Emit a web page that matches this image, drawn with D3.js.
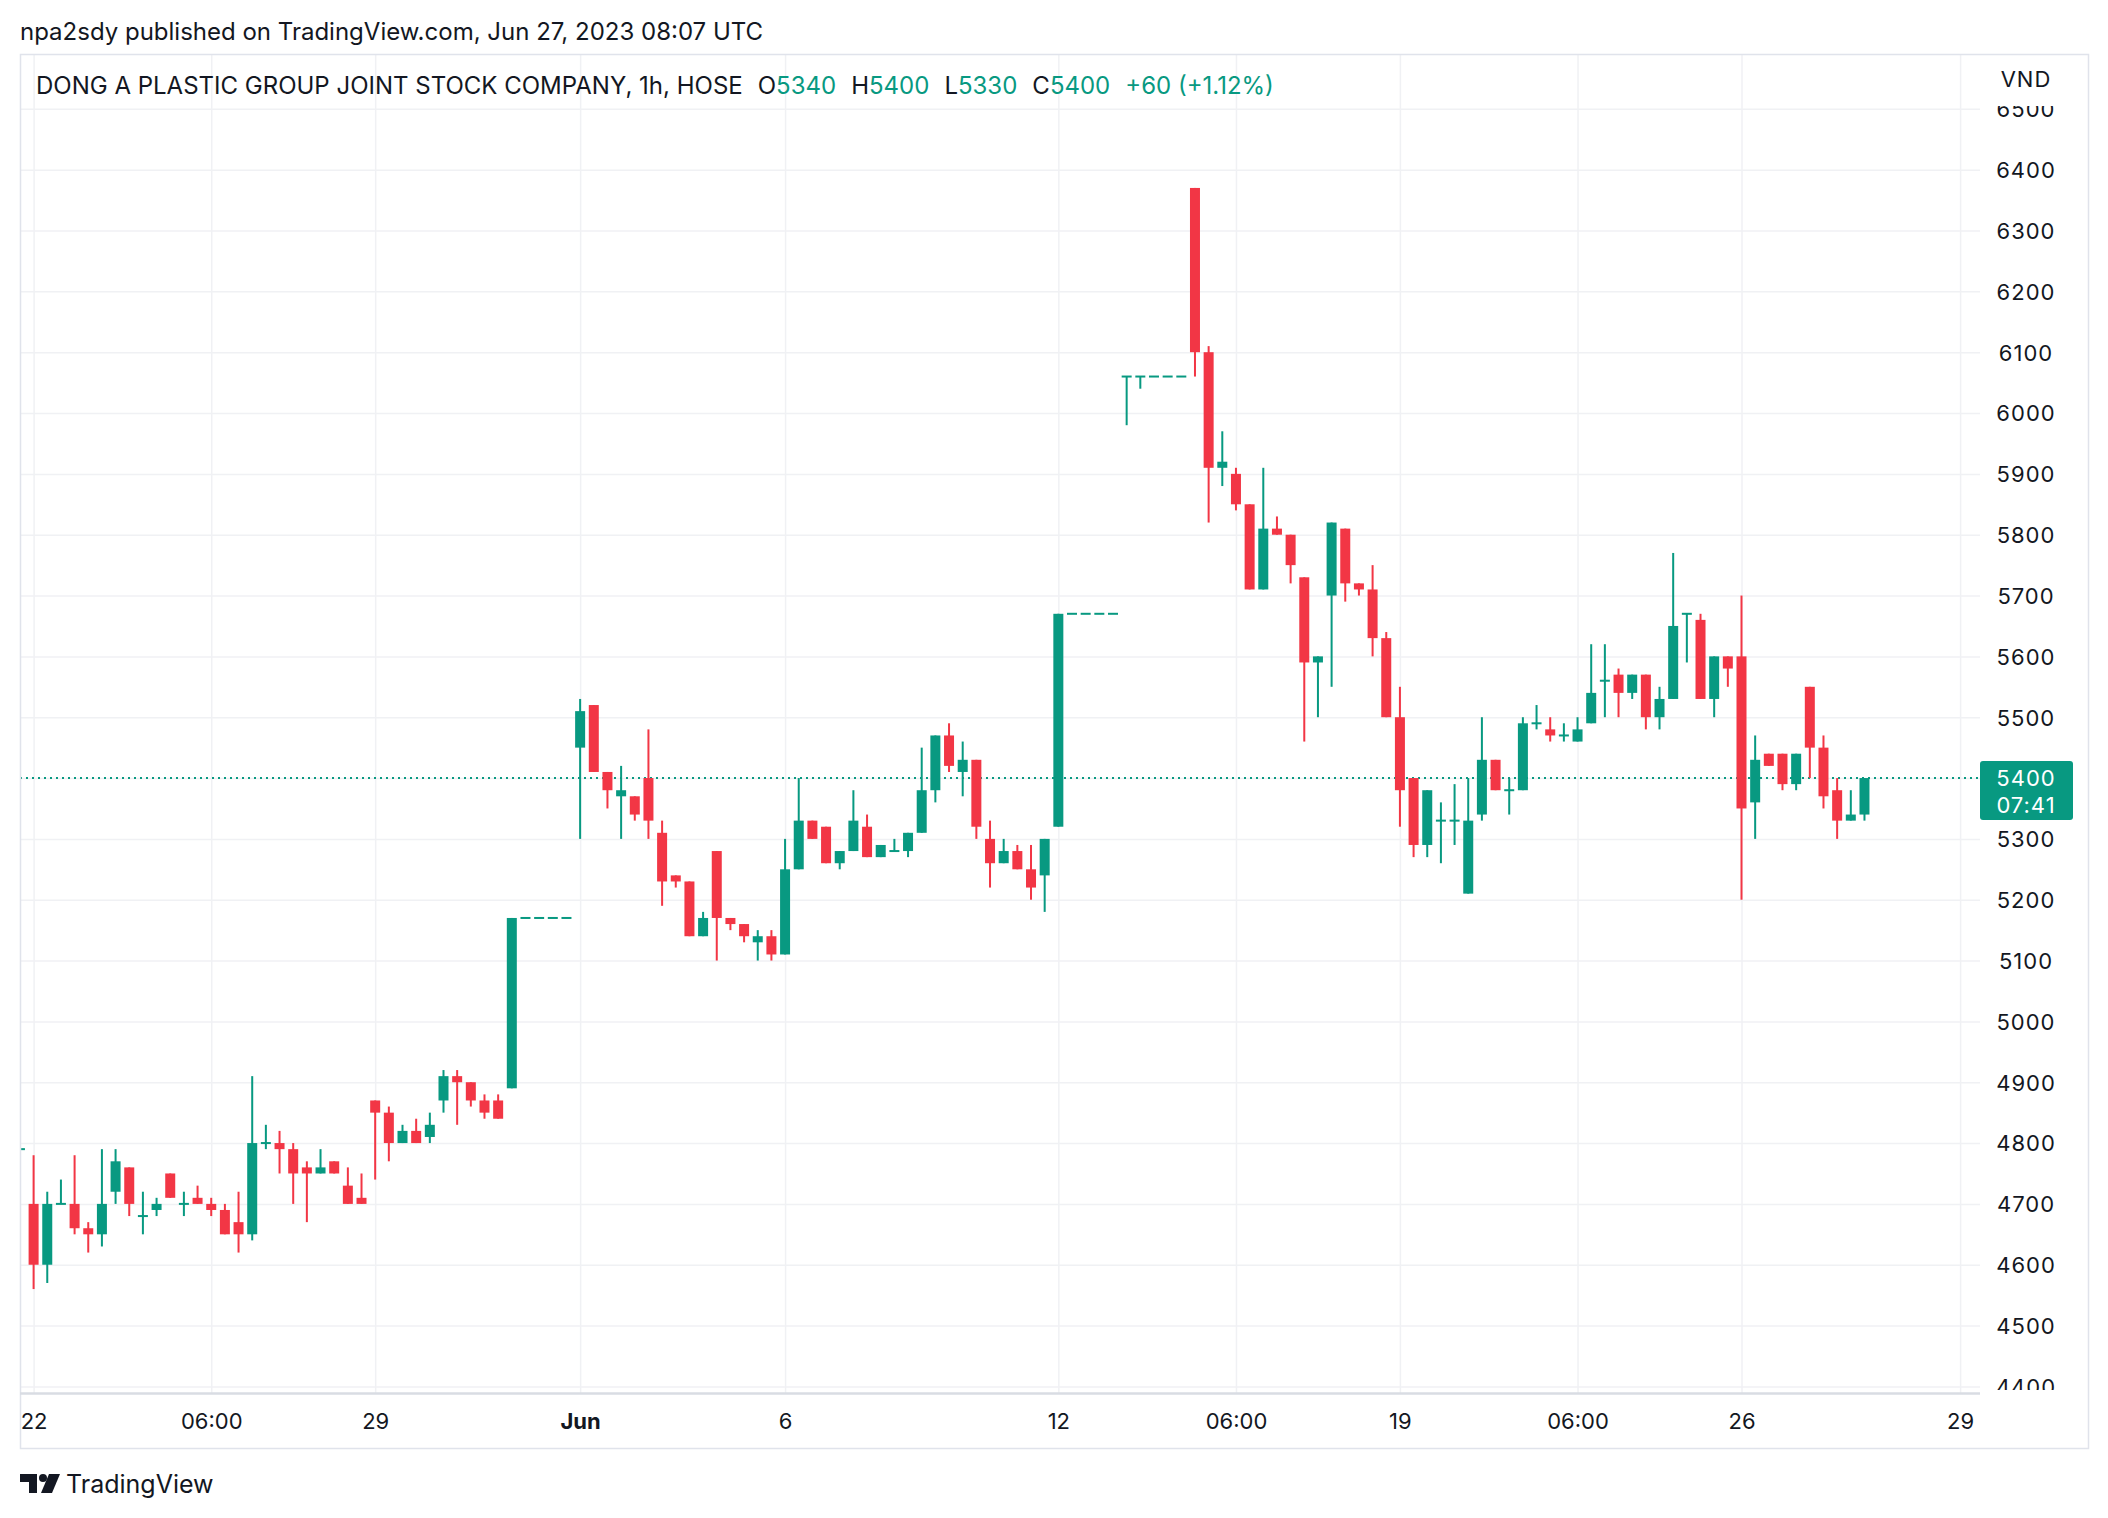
<!DOCTYPE html>
<html>
<head>
<meta charset="utf-8">
<script src="https://cdn.jsdelivr.net/npm/d3@7"></script>
<style>
body { margin: 0; background: #fff; }
svg { font-family: Inter, "Noto Sans", sans-serif; }
.grid line { stroke: #f0f1f4; stroke-width: 1.5; }
.grid path { display: none; }
.axis path, .axis line { display: none; }
.axis text { fill: #131722; font-size: 22px; font-family: Inter, sans-serif; }
</style>
</head>
<body>
<svg width="2108" height="1518"></svg>
<script>
const UP = "#089981"
const DOWN = "#F23645"
const INK = "#131722"

// hourly bars, first one is the last bar of May 19 (cut by the left edge)
var firstBar = -1
var opens = [4790,
	4700,4600,4700,4700,4660, 4650,4720,4760,4680,4690, 4750,4700,4710,4700,4690, 4670,4650,4800,4800,4790,
	4760,4750,4770,4730,4710, 4870,4850,4800,4820,4810, 4870,4910,4900,4870,4870, 4890,5170,5170,5170,5170,
	5450,5520,5410,5370,5370, 5400,5310,5240,5230,5140, 5280,5170,5160,5130,5140,
	5110,5250,5330,5320,5260, 5280,5320,5270,5280,5280, 5310,5380,5470,5410,5430, 5300,5260,5280,5250,5240,
	5320,5670,5670,5670,5670, 6060,6060,6060,6060,6060, 6370,6100,5910,5900,5850,
	5710,5810,5800,5730,5590, 5700,5810,5720,5710,5630,
	5500,5400,5290,5330,5330, 5210,5340,5430,5380,5380, 5490,5480,5470,5460,5490, 5560,5570,5540,5570,5500,
	5530,5670,5660,5530,5600, 5600,5360,5440,5440,5390, 5550,5450,5380,5330,5340]
var highs = [4790,
	4780,4720,4740,4780,4670, 4790,4790,4760,4720,4710, 4750,4720,4730,4710,4700, 4720,4910,4830,4820,4800,
	4770,4790,4770,4760,4750, 4870,4860,4830,4840,4850, 4920,4920,4900,4880,4880, 5170,5170,5170,5170,5170,
	5530,5520,5410,5420,5370, 5480,5330,5240,5230,5180, 5280,5170,5160,5150,5150,
	5300,5400,5330,5320,5280, 5380,5340,5290,5300,5310, 5450,5470,5490,5460,5430, 5330,5300,5290,5290,5300,
	5670,5670,5670,5670,5670, 6060,6060,6060,6060,6060, 6370,6110,5970,5910,5850,
	5910,5830,5800,5730,5600, 5820,5810,5720,5750,5640,
	5550,5400,5380,5360,5390, 5400,5500,5430,5400,5500, 5520,5500,5490,5500,5620, 5620,5580,5570,5570,5550,
	5770,5670,5670,5600,5600, 5700,5470,5440,5440,5440, 5550,5470,5400,5380,5400]
var lows = [4700,
	4560,4570,4700,4650,4620, 4630,4700,4680,4650,4680, 4710,4680,4700,4680,4650, 4620,4640,4790,4750,4700,
	4670,4750,4750,4700,4700, 4740,4770,4800,4800,4800, 4850,4830,4860,4840,4840, 4890,5170,5170,5170,5170,
	5300,5410,5350,5300,5330, 5300,5190,5220,5140,5140, 5100,5150,5130,5100,5100,
	5110,5250,5300,5260,5250, 5280,5270,5270,5280,5270, 5310,5360,5410,5370,5300, 5220,5260,5250,5200,5180,
	5320,5670,5670,5670,5670, 5980,6040,6060,6060,6060, 6060,5820,5880,5840,5710,
	5710,5800,5720,5460,5500, 5550,5690,5700,5600,5500,
	5320,5270,5270,5260,5290, 5210,5330,5380,5340,5380, 5480,5460,5460,5460,5490, 5500,5500,5530,5480,5480,
	5530,5590,5530,5500,5550, 5200,5300,5420,5380,5380, 5400,5350,5300,5330,5330]
var closes = [4790,
	4600,4700,4700,4660,4650, 4700,4770,4700,4680,4700, 4710,4700,4700,4690,4650, 4650,4800,4800,4790,4750,
	4750,4760,4750,4700,4700, 4850,4800,4820,4800,4830, 4910,4900,4870,4850,4840, 5170,5170,5170,5170,5170,
	5510,5410,5380,5380,5340, 5330,5230,5230,5140,5170, 5170,5160,5140,5140,5110,
	5250,5330,5300,5260,5280, 5330,5270,5290,5280,5310, 5380,5470,5420,5430,5320, 5260,5280,5250,5220,5300,
	5670,5670,5670,5670,5670, 6060,6060,6060,6060,6060, 6100,5910,5920,5850,5710,
	5810,5800,5750,5590,5600, 5820,5720,5710,5630,5500,
	5380,5290,5380,5330,5330, 5330,5430,5380,5380,5490, 5490,5470,5470,5480,5540, 5560,5540,5570,5500,5530,
	5650,5670,5530,5600,5580, 5350,5430,5420,5390,5440, 5450,5370,5330,5340,5400]

var priceTicks = d3.range(4400, 6600, 100)
var timeTickBars = [0, 13, 25, 40, 55, 75, 88, 100, 113, 125, 141]
var timeTickLabels = ["22", "06:00", "29", "Jun", "6", "12", "06:00", "19", "06:00", "26", "29"]

var publishedBy = "npa2sdy published on TradingView.com, Jun 27, 2023 08:07 UTC"
var symbolTitle = "DONG A PLASTIC GROUP JOINT STOCK COMPANY, 1h, HOSE"
var currency = "VND"
var countdown = "07:41"

var svg = d3.select("svg"),
	pane = { left: 20, top: 54, right: 1980, bottom: 1393 },
	outer = { right: 2088, bottom: 1448 }

var x = d3.scaleLinear()
	.domain([0, 125])
	.range([33.6, 1741.5])

var y = d3.scaleLinear()
	.domain([4400, 6400])
	.range([1386.4, 169.7])

svg.append("rect").attr("width", 2108).attr("height", 1518).attr("fill", "#fff")

// gridlines
svg.append("g")
	.attr("class", "grid")
	.attr("transform", "translate(0," + pane.bottom + ")")
	.call(d3.axisBottom(x)
		.tickValues(timeTickBars)
		.tickSize(-(pane.bottom - pane.top))
		.tickFormat(""))

svg.append("g")
	.attr("class", "grid")
	.attr("transform", "translate(" + pane.left + ",0)")
	.call(d3.axisLeft(y)
		.tickValues(priceTicks)
		.tickSize(-(pane.right - pane.left))
		.tickFormat(""))

svg.append("clipPath").attr("id", "clip")
	.append("rect")
	.attr("x", pane.left).attr("y", pane.top)
	.attr("width", pane.right - pane.left).attr("height", pane.bottom - pane.top)

var bars = opens.map(function (o, k) {
	return { i: firstBar + k, o: o, h: highs[k], l: lows[k], c: closes[k] }
})
var last = bars[bars.length - 1]
var prevClose = bars[bars.length - 2].c

// last price line
svg.append("line")
	.attr("x1", pane.left).attr("x2", pane.right)
	.attr("y1", y(last.c)).attr("y2", y(last.c))
	.attr("stroke", UP).attr("stroke-width", 2)
	.attr("stroke-dasharray", "2,4")

var plot = svg.append("g").attr("clip-path", "url(#clip)")
var candle = plot.selectAll("g.candle")
	.data(bars)
	.enter()
	.append("g")
	.attr("class", "candle")
	.attr("fill", function (d) { return d.c >= d.o ? UP : DOWN })

candle.append("rect")
	.attr("x", function (d) { return x(d.i) - 1 })
	.attr("width", 2)
	.attr("y", function (d) { return y(d.h) })
	.attr("height", function (d) { return y(d.l) - y(d.h) })

candle.append("rect")
	.attr("x", function (d) { return x(d.i) - 5 })
	.attr("width", 10)
	.attr("y", function (d) {
		var top = y(Math.max(d.o, d.c)), h = y(Math.min(d.o, d.c)) - top
		return h < 2 ? top - 1 : top
	})
	.attr("height", function (d) {
		return Math.max(2, y(Math.min(d.o, d.c)) - y(Math.max(d.o, d.c)))
	})

// price axis
var pAxis = svg.append("g")
	.attr("class", "axis")
	.attr("transform", "translate(" + pane.right + ",0)")
	.call(d3.axisRight(y).tickValues(priceTicks).tickSize(0).tickFormat(d3.format("d")))
pAxis.selectAll("text")
	.attr("x", 46)
	.attr("text-anchor", "middle")
	.attr("dy", "0.36em")
	.attr("letter-spacing", "1px")
	.attr("fill", function (d) { return d > 6400 ? "#9598a1" : INK })

svg.append("rect")
	.attr("x", pane.right + 2).attr("y", pane.top + 2)
	.attr("width", outer.right - pane.right - 4).attr("height", 50)
	.attr("fill", "#fff")
svg.append("text")
	.attr("x", 2026).attr("y", 79)
	.attr("text-anchor", "middle").attr("dy", "0.36em")
	.attr("font-size", 22).attr("letter-spacing", "1px").attr("fill", INK)
	.text(currency)

// covers the bottom of the lowest label like the time scale does
svg.append("rect")
	.attr("x", pane.right).attr("y", pane.bottom - 3)
	.attr("width", outer.right - pane.right - 1).attr("height", 55)
	.attr("fill", "#fff")

// frame
svg.append("rect")
	.attr("x", pane.left + 0.5).attr("y", pane.top + 0.5)
	.attr("width", outer.right - pane.left).attr("height", outer.bottom - pane.top)
	.attr("fill", "none").attr("stroke", "#e0e3eb").attr("stroke-width", 1.5)
svg.append("line")
	.attr("x1", pane.left).attr("x2", pane.right)
	.attr("y1", pane.bottom + 0.5).attr("y2", pane.bottom + 0.5)
	.attr("stroke", "#d9dce3").attr("stroke-width", 2.5)

// last price tag
svg.append("rect")
	.attr("x", pane.right).attr("y", y(last.c) - 17)
	.attr("width", 93).attr("height", 59)
	.attr("rx", 3)
	.attr("fill", UP)
svg.append("text")
	.attr("x", 2026).attr("y", y(last.c))
	.attr("text-anchor", "middle").attr("dy", "0.36em")
	.attr("font-size", 22).attr("letter-spacing", "1px").attr("fill", "#fff")
	.text(last.c)
svg.append("text")
	.attr("x", 2026).attr("y", y(last.c) + 27)
	.attr("text-anchor", "middle").attr("dy", "0.36em")
	.attr("font-size", 22).attr("letter-spacing", "1px").attr("fill", "#fff")
	.text(countdown)

// time axis
var tAxis = svg.append("g")
	.attr("class", "axis")
	.attr("transform", "translate(0," + pane.bottom + ")")
	.call(d3.axisBottom(x)
		.tickValues(timeTickBars)
		.tickSize(0)
		.tickFormat(function (d, k) { return timeTickLabels[k] }))
tAxis.selectAll("text")
	.attr("y", 28)
	.attr("dy", "0.36em")
	.attr("font-weight", function (d, k) { return timeTickLabels[k] === "Jun" ? 700 : 400 })

// titles
svg.append("text")
	.attr("x", 20).attr("y", 31)
	.attr("dy", "0.36em")
	.attr("font-size", 24).attr("fill", INK)
	.text(publishedBy)

var head = svg.append("text")
	.attr("x", 36).attr("y", 85)
	.attr("dy", "0.36em")
	.attr("font-size", 24).attr("fill", INK)
head.append("tspan").text(symbolTitle)
var ohlc = [["O", last.o], ["H", last.h], ["L", last.l], ["C", last.c]]
ohlc.forEach(function (p) {
	head.append("tspan").attr("dx", 15).attr("fill", INK).text(p[0])
	head.append("tspan").attr("fill", UP).text(p[1])
})
var chg = last.c - prevClose
head.append("tspan").attr("dx", 15).attr("fill", UP)
	.text((chg >= 0 ? "+" : "") + chg + " (" + (chg >= 0 ? "+" : "") + (chg / prevClose * 100).toFixed(2) + "%)")

// logo
var logo = svg.append("g").attr("fill", INK)
logo.append("path").attr("d", "M20 1474 H37 V1493 H29 V1482 H20 Z")
logo.append("circle").attr("cx", 43).attr("cy", 1478).attr("r", 4)
logo.append("path").attr("d", "M49 1474 H60 L52 1493 H41 Z")
svg.append("text")
	.attr("x", 66).attr("y", 1484)
	.attr("dy", "0.36em")
	.attr("font-size", 25).attr("fill", INK)
	.text("TradingView")
</script>
</body>
</html>
